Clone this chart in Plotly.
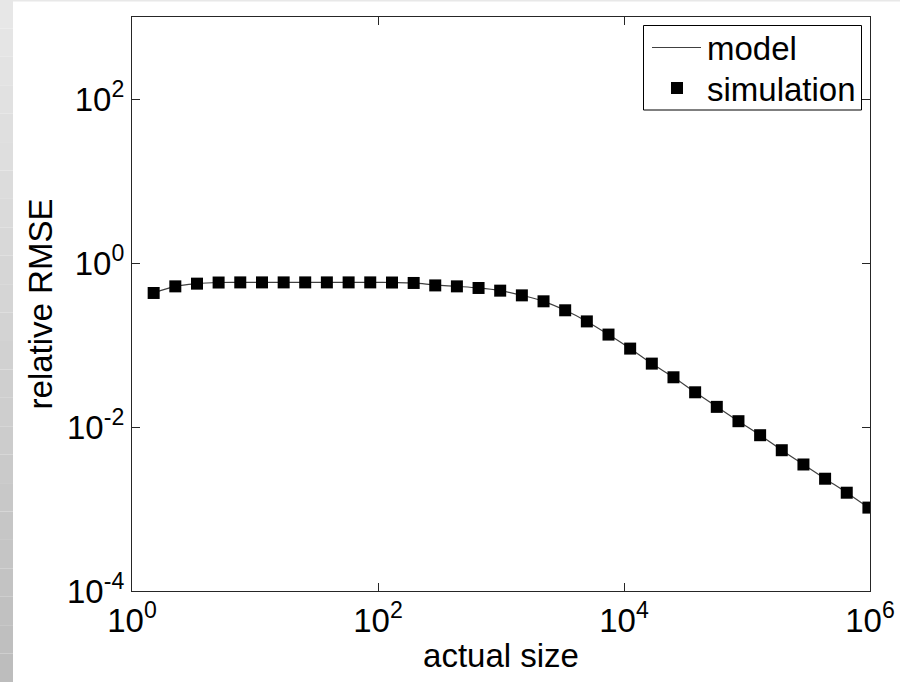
import plotly.graph_objects as go

# ---- data ----
actual_size = [1.5, 2.25, 3.375, 5.06, 7.59, 11.4, 17.1, 25.6, 38.4, 57.7,
               86.5, 130, 195, 292, 438, 657, 985, 1478, 2217, 3325,
               4988, 7482, 11223, 16834, 25251, 37877, 56815, 85223, 127834,
               191751, 287627, 431440, 647160, 970740]
sim_rmse = [0.431, 0.519, 0.560, 0.578, 0.580, 0.580, 0.580, 0.580, 0.580, 0.580,
            0.580, 0.578, 0.571, 0.533, 0.519, 0.496, 0.460, 0.403, 0.341, 0.265,
            0.194, 0.134, 0.0904, 0.0593, 0.0404, 0.0265, 0.0176, 0.01177, 0.00794,
            0.00521, 0.00349, 0.00234, 0.00158, 0.00104]
model_rmse = [0.431, 0.519, 0.560, 0.578, 0.580, 0.580, 0.580, 0.580, 0.580, 0.580,
              0.580, 0.578, 0.571, 0.540, 0.519, 0.496, 0.460, 0.403, 0.341, 0.265,
              0.194, 0.134, 0.0904, 0.0593, 0.0404, 0.0265, 0.0176, 0.01177, 0.00794,
              0.00521, 0.00349, 0.00234, 0.00158, 0.00104]
x_tickvals = [1, 1e2, 1e4, 1e6]
x_ticktext = ["10<sup>0</sup>", "10<sup>2</sup>", "10<sup>4</sup>", "10<sup>6</sup>"]
y_tickvals = [1e-4, 1e-2, 1, 1e2]
y_ticktext = ["10<sup>-4</sup>", "10<sup>-2</sup>", "10<sup>0</sup>", "10<sup>2</sup>"]
legend_labels = ["model", "simulation"]

FONT = "Liberation Sans, Arial, Helvetica, sans-serif"
W, H = 900, 682
ML, MR, MT, MB = 132, 30, 17, 91
PW, PH = W - ML - MR, H - MT - MB


def px_x(px):
    return (px - ML) / PW


def px_y(py):
    return 1 - (py - MT) / PH


fig = go.Figure()
fig.add_trace(go.Scatter(x=actual_size, y=model_rmse, mode="lines", name=legend_labels[0],
                         line=dict(color="#404040", width=1.2, shape="spline")))
fig.add_trace(go.Scatter(x=actual_size, y=sim_rmse, mode="markers", name=legend_labels[1],
                         marker=dict(symbol="square", size=12, color="black",
                                     line=dict(width=0))))

# gray strip on the left (gradient) and thin top strip, in paper coordinates
shapes = []
n = 24
for i in range(n):
    y0p, y1p = i / n, (i + 1) / n
    g = int(0xbd + (0xe8 - 0xbd) * (i + 0.5) / n)
    col = f"rgb({g},{g},{g})"
    shapes.append(dict(type="rect", xref="paper", yref="paper",
                       x0=px_x(0), x1=px_x(13),
                       y0=px_y(H - y0p * H), y1=px_y(H - y1p * H),
                       fillcolor=col, line=dict(width=0), layer="below"))
shapes.append(dict(type="rect", xref="paper", yref="paper",
                   x0=px_x(13), x1=px_x(W), y0=px_y(1.5), y1=px_y(0),
                   fillcolor="#e8e8e8", line=dict(width=0), layer="below"))

# legend box drawn like the MATLAB legend
shapes.append(dict(type="rect", xref="paper", yref="paper",
                   x0=px_x(643.5), x1=px_x(861.5), y0=px_y(110), y1=px_y(25.5),
                   fillcolor="white", line=dict(color="black", width=1), layer="above"))
shapes.append(dict(type="line", xref="paper", yref="paper",
                   x0=px_x(652), x1=px_x(701), y0=px_y(47.5), y1=px_y(47.5),
                   line=dict(color="#404040", width=1.2), layer="above"))
shapes.append(dict(type="rect", xref="paper", yref="paper",
                   x0=px_x(671), x1=px_x(683), y0=px_y(94), y1=px_y(82),
                   fillcolor="black", line=dict(width=0), layer="above"))

annotations = [
    dict(text=legend_labels[0], xref="paper", yref="paper", x=px_x(705), y=px_y(49),
         xanchor="left", yanchor="middle", showarrow=False,
         font=dict(family=FONT, size=33, color="black")),
    dict(text=legend_labels[1], xref="paper", yref="paper", x=px_x(705), y=px_y(90),
         xanchor="left", yanchor="middle", showarrow=False,
         font=dict(family=FONT, size=33, color="black")),
]

axis_common = dict(type="log", showgrid=False, zeroline=False, showline=True,
                   linecolor="#262626", linewidth=1.3, mirror="ticks",
                   ticks="inside", ticklen=8, tickwidth=1, tickcolor="#262626",
                   automargin=False,
                   tickfont=dict(family=FONT, size=33, color="black"))

fig.update_layout(
    width=W, height=H,
    margin=dict(l=ML, r=MR, t=MT, b=MB),
    paper_bgcolor="white", plot_bgcolor="white",
    font=dict(family=FONT, size=33, color="black"),
    xaxis=dict(**axis_common, range=[0, 6], tickvals=x_tickvals, ticktext=x_ticktext,
               title=dict(text="actual size", font=dict(family=FONT, size=33), standoff=6)),
    yaxis=dict(**axis_common, range=[-4, 3], tickvals=y_tickvals, ticktext=y_ticktext,
               title=dict(text="relative RMSE", font=dict(family=FONT, size=33), standoff=4)),
    shapes=shapes,
    annotations=annotations,
    showlegend=False,
)

fig.write_html("out.html")
